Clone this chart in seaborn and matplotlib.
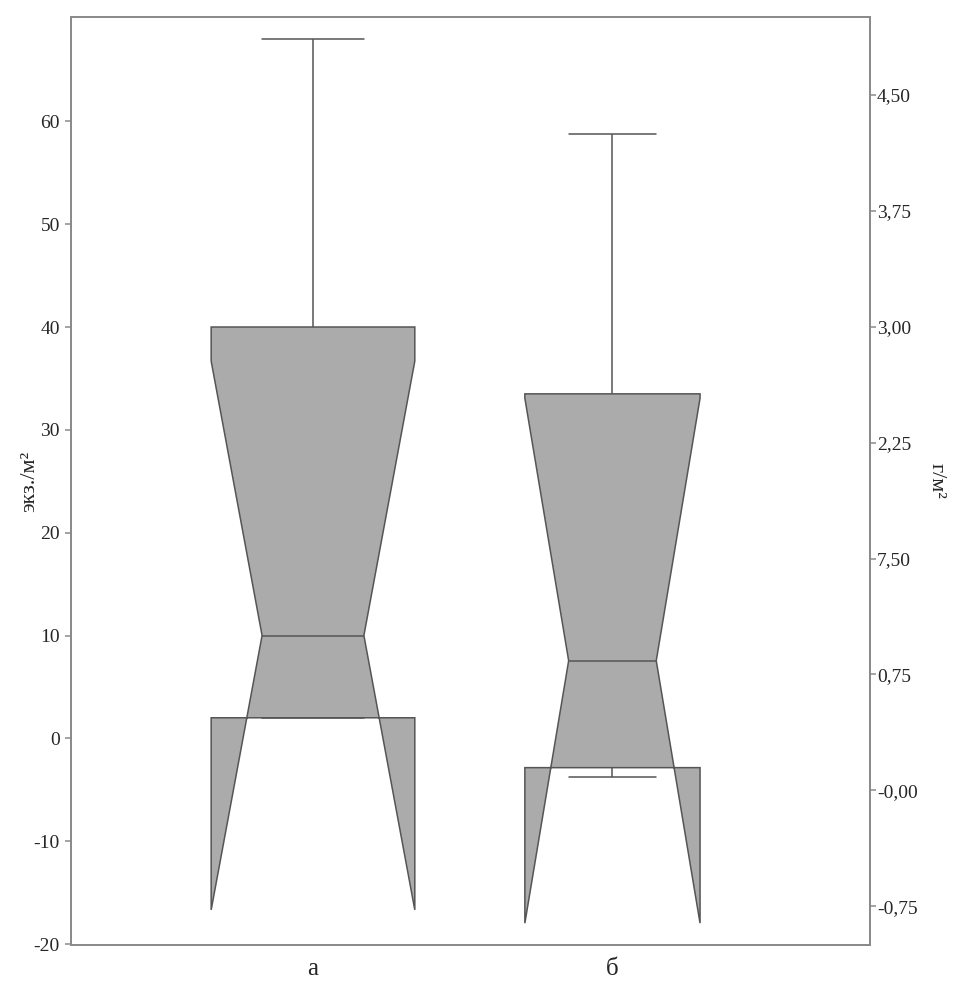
import pandas as pd
import matplotlib
matplotlib.use("Agg")
import matplotlib.pyplot as plt
import seaborn as sns

# =========================
# DATA
# =========================

groups = ["а", "б"]
values_a = [2, 2, 10, 40, 68]
values_b = [-3.8, -2.85, 7.55, 33.5, 58.75]

left_ticks = [-20, -10, 0, 10, 20, 30, 40, 50, 60]
right_ticks = [-0.75, 0, 0.75, 1.5, 2.25, 3.0, 3.75, 4.5]
right_labels = ["-0,75", "-0,00", "0,75", "7,50", "2,25", "3,00", "3,75", "4,50"]

df = pd.DataFrame({
    "group": ["а"] * len(values_a) + ["б"] * len(values_b),
    "value": values_a + values_b,
})

# =========================
# STYLE
# =========================

sns.set_style("white")
plt.rcParams["font.family"] = ["Liberation Serif", "DejaVu Serif"]
plt.rcParams["axes.unicode_minus"] = False

spine_color = "#8a8a8a"
line_color = "#555555"
face_color = "#ababab"

fig = plt.figure(figsize=(9.61, 9.93), dpi=100)
ax = fig.add_axes([0.0739, 0.0483, 0.8314, 0.9341])

# =========================
# BOXES (different widths as in original)
# =========================

box_kws = dict(
    x="group",
    y="value",
    order=groups,
    notch=True,
    color=face_color,
    linecolor=line_color,
    linewidth=1.1,
    saturation=1,
    showfliers=False,
    ax=ax,
)

sns.boxplot(data=df[df["group"] == "а"], width=0.68, **box_kws)
sns.boxplot(data=df[df["group"] == "б"], width=0.585, **box_kws)

ax.set_xlim(-0.808, 1.86)
ax.set_ylim(-20.1, 70.1)

ax.set_yticks(left_ticks)
ax.set_yticklabels([str(t) for t in left_ticks])
ax.set_xlabel("")
ax.set_ylabel("экз./м²", fontsize=16, labelpad=-4)

ax.tick_params(axis="y", direction="out", length=4, width=1.1,
               color=spine_color, labelsize=14, pad=4, left=True)
ax.tick_params(axis="x", length=0, labelsize=18, pad=9)

for s in ax.spines.values():
    s.set_color(spine_color)
    s.set_linewidth(1.3)

# =========================
# RIGHT AXIS
# =========================

ax2 = ax.twinx()
ax2.set_ylim(-1.0, 5.0)
ax2.set_yticks(right_ticks)
ax2.set_yticklabels(right_labels)
ax2.set_ylabel("г/м²", fontsize=16, rotation=270, labelpad=20)
ax2.tick_params(axis="y", direction="out", length=4, width=1.1,
                color=spine_color, labelsize=14, pad=1, right=True)
for s in ax2.spines.values():
    s.set_color(spine_color)
    s.set_linewidth(1.3)

fig.savefig("out.png", dpi=100)
